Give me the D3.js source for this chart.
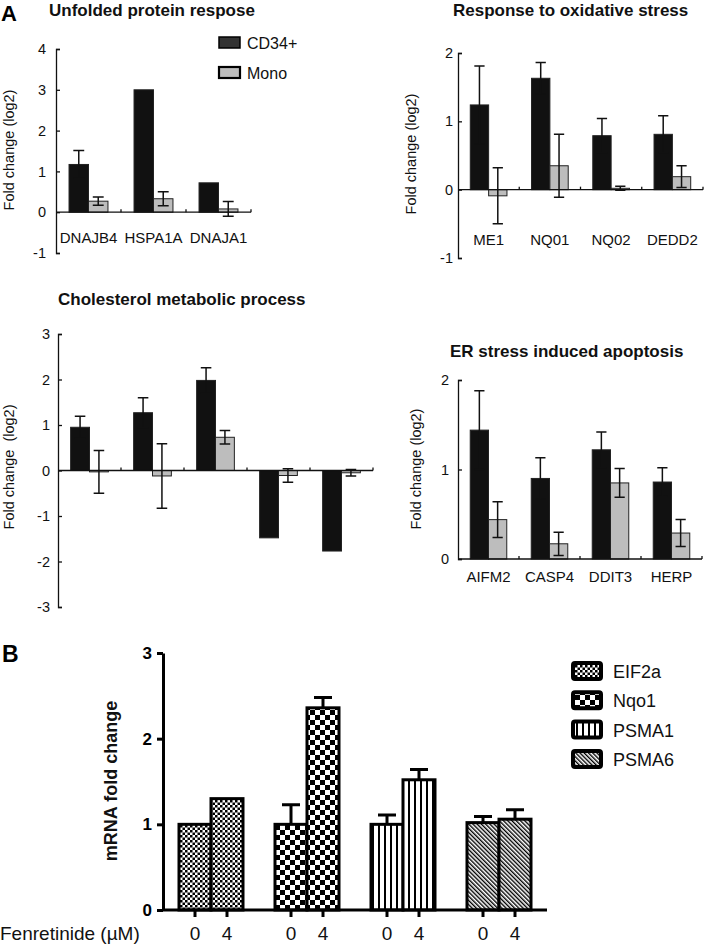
<!DOCTYPE html>
<html>
<head>
<meta charset="utf-8">
<script src="https://cdn.jsdelivr.net/npm/d3@7"></script>
<style>
body { margin: 0; background: #fff; }
svg { font-family: "Liberation Sans", Arial, sans-serif; }
</style>
</head>
<body>
<svg width="709" height="947"></svg>
<script>
// ---- panel A data (log2 fold change, CD34+ vs Mono) ----
const series = ["CD34+", "Mono"];

const uprGenes = ["DNAJB4", "HSPA1A", "DNAJA1"];
const uprCd34 = [1.17, 3.0, 0.72];
const uprCd34Err = [0.34, 0, 0];
const uprMono = [0.27, 0.33, 0.08];
const uprMonoErr = [0.1, 0.17, 0.18];

const oxGenes = ["ME1", "NQ01", "NQ02", "DEDD2"];
const oxCd34 = [1.24, 1.63, 0.79, 0.81];
const oxCd34Err = [0.57, 0.23, 0.25, 0.27];
const oxMono = [-0.09, 0.35, 0.02, 0.19];
const oxMonoErr = [0.41, 0.46, 0.03, 0.16];

// cholesterol panel has no gene labels in the figure
const cholGenes = ["g1", "g2", "g3", "g4", "g5"];
const cholCd34 = [0.95, 1.27, 1.98, -1.48, -1.77];
const cholCd34Err = [0.24, 0.33, 0.28, 0, 0];
const cholMono = [-0.03, -0.12, 0.73, -0.11, -0.05];
const cholMonoErr = [0.47, 0.71, 0.15, 0.15, 0.07];

const erGenes = ["AIFM2", "CASP4", "DDIT3", "HERP"];
const erCd34 = [1.44, 0.9, 1.22, 0.86];
const erCd34Err = [0.44, 0.23, 0.2, 0.16];
const erMono = [0.44, 0.17, 0.85, 0.29];
const erMonoErr = [0.2, 0.13, 0.16, 0.15];

// ---- panel B data (mRNA fold change) ----
const bGenes = ["EIF2a", "Nqo1", "PSMA1", "PSMA6"];
const bDoses = ["0", "4"];
const bDose0 = [1.0, 1.0, 1.0, 1.02];
const bDose0Err = [0, 0.23, 0.11, 0.07];
const bDose4 = [1.3, 2.36, 1.52, 1.06];
const bDose4Err = [0, 0.12, 0.12, 0.11];

const svg = d3.select("svg");
const black = "#111";
const grey = "#bdbdbd";

// patterns for panel B
const defs = svg.append("defs");
function checker(id, s) {
    const p = defs.append("pattern").attr("id", id)
        .attr("patternUnits", "userSpaceOnUse")
        .attr("width", s * 2).attr("height", s * 2);
    p.append("rect").attr("width", s * 2).attr("height", s * 2).attr("fill", "#fff");
    p.append("rect").attr("width", s).attr("height", s).attr("fill", "#000");
    p.append("rect").attr("x", s).attr("y", s).attr("width", s).attr("height", s).attr("fill", "#000");
}
checker("pEIF", 2.5);
checker("pNQO", 5);
const pv = defs.append("pattern").attr("id", "pPSMA1")
    .attr("patternUnits", "userSpaceOnUse").attr("width", 6).attr("height", 6);
pv.append("rect").attr("width", 6).attr("height", 6).attr("fill", "#fff");
pv.append("rect").attr("width", 2).attr("height", 6).attr("fill", "#000");
const pd = defs.append("pattern").attr("id", "pPSMA6")
    .attr("patternUnits", "userSpaceOnUse").attr("width", 3).attr("height", 3)
    .attr("patternTransform", "rotate(-45)");
pd.append("rect").attr("width", 3).attr("height", 3).attr("fill", "#fff");
pd.append("rect").attr("width", 1.4).attr("height", 3).attr("fill", "#000");
const bFill = ["url(#pEIF)", "url(#pNQO)", "url(#pPSMA1)", "url(#pPSMA6)"];

// one small panel of figure A
function panelA(p) {
    const g = svg.append("g");
    const x = d3.scaleBand().domain(p.genes).range(p.xr);
    const y = d3.scaleLinear().domain(p.yd).range(p.yr);
    const inner = d3.scaleBand().domain(series).range([0, x.bandwidth()]).paddingOuter(0.67);
    const bw = inner.bandwidth();

    const rows = p.genes.map((gene, i) => [
        { gene, s: "CD34+", v: p.cd34[i], e: p.cd34Err[i] },
        { gene, s: "Mono", v: p.mono[i], e: p.monoErr[i] }
    ]).flat();

    g.selectAll(".bar").data(rows).enter().append("rect")
        .attr("x", d => x(d.gene) + inner(d.s))
        .attr("y", d => Math.min(y(d.v), y(0)))
        .attr("width", bw)
        .attr("height", d => Math.abs(y(d.v) - y(0)))
        .attr("fill", d => d.s == "CD34+" ? black : grey)
        .attr("stroke", "#222")
        .attr("stroke-width", 1);

    const eb = rows.filter(d => d.e > 0);
    const cx = d => x(d.gene) + inner(d.s) + bw / 2;
    const cap = bw * 0.28;
    g.selectAll(".err").data(eb).enter().append("path")
        .attr("d", d => {
            const t = y(d.v + d.e), b = y(d.v - d.e), c = cx(d);
            return `M${c},${t}V${b}M${c - cap},${t}H${c + cap}M${c - cap},${b}H${c + cap}`;
        })
        .attr("fill", "none").attr("stroke", black).attr("stroke-width", 1.5);

    // y axis, ticks pointing inward
    const ya = g.append("g")
        .attr("transform", `translate(${p.xr[0]},0)`)
        .call(d3.axisLeft(y)
            .tickValues(d3.range(p.yd[0], p.yd[1] + 1))
            .tickFormat(d => d)
            .tickSize(-4)
            .tickPadding(p.pad));
    ya.selectAll("path,line").attr("stroke", black).attr("stroke-width", 1.3);
    ya.selectAll("text").attr("font-size", 14.5).attr("fill", black)
        .attr("font-family", "Liberation Sans, Arial, sans-serif");

    // zero line and small ticks between genes
    g.append("line")
        .attr("x1", p.xr[0]).attr("x2", p.xr[1])
        .attr("y1", y(0)).attr("y2", y(0))
        .attr("stroke", black).attr("stroke-width", 1.3);
    const bounds = p.genes.slice(1).map(d => x(d)).concat([p.xr[1]]);
    g.selectAll(".xt").data(bounds).enter().append("line")
        .attr("x1", d => d).attr("x2", d => d)
        .attr("y1", y(0)).attr("y2", y(0) - 3)
        .attr("stroke", black).attr("stroke-width", 1.3);

    if (p.labels) {
        g.selectAll(".lab").data(p.genes).enter().append("text")
            .attr("x", d => x(d) + x.bandwidth() / 2)
            .attr("y", p.labelY)
            .attr("text-anchor", "middle")
            .attr("font-size", 15)
            .attr("fill", black)
            .text(d => d);
    }

    g.append("text")
        .attr("x", p.titleX).attr("y", p.titleY)
        .attr("font-size", 17).attr("font-weight", "bold").attr("fill", black)
        .text(p.title);

    g.append("text")
        .attr("transform", `translate(${p.ylabX},${p.ylabY}) rotate(-90)`)
        .attr("text-anchor", "middle")
        .attr("dominant-baseline", "central")
        .attr("font-size", 14.5).attr("fill", black)
        .text(p.ylab);
}

panelA({
    genes: uprGenes, cd34: uprCd34, cd34Err: uprCd34Err, mono: uprMono, monoErr: uprMonoErr,
    xr: [56, 251], yd: [-1, 4], yr: [253, 49], pad: 10, labels: true, labelY: 243,
    title: "Unfolded protein respose", titleX: 49, titleY: 16,
    ylab: "Fold change (log2)", ylabX: 9, ylabY: 150
});
panelA({
    genes: oxGenes, cd34: oxCd34, cd34Err: oxCd34Err, mono: oxMono, monoErr: oxMonoErr,
    xr: [458, 703], yd: [-1, 2], yr: [258, 53], pad: 5, labels: true, labelY: 245,
    title: "Response to oxidative stress", titleX: 453, titleY: 16,
    ylab: "Fold change (log2)", ylabX: 411, ylabY: 154
});
panelA({
    genes: cholGenes, cd34: cholCd34, cd34Err: cholCd34Err, mono: cholMono, monoErr: cholMonoErr,
    xr: [58, 373], yd: [-3, 3], yr: [607, 334], pad: 8, labels: false,
    title: "Cholesterol metabolic process", titleX: 58, titleY: 305,
    ylab: "Fold change \u00a0(log2)", ylabX: 9, ylabY: 467
});
panelA({
    genes: erGenes, cd34: erCd34, cd34Err: erCd34Err, mono: erMono, monoErr: erMonoErr,
    xr: [458, 702], yd: [0, 2], yr: [559, 380], pad: 9, labels: true, labelY: 582,
    title: "ER stress induced apoptosis", titleX: 450, titleY: 357,
    ylab: "Fold change (log2)", ylabX: 416, ylabY: 469
});

// legend of A
const legA = svg.append("g");
legA.selectAll("rect").data(series).enter().append("rect")
    .attr("x", 219).attr("y", (d, i) => 37 + i * 30)
    .attr("width", 21).attr("height", 11)
    .attr("fill", (d, i) => i == 0 ? "#333" : grey)
    .attr("stroke", "#000").attr("stroke-width", (d, i) => i == 0 ? 1.5 : 2.2);
legA.selectAll("text").data(series).enter().append("text")
    .attr("x", 247).attr("y", (d, i) => 49 + i * 30)
    .attr("font-size", 16).attr("fill", black)
    .text(d => d);

svg.append("text").attr("x", 1).attr("y", 21)
    .attr("font-size", 22).attr("font-weight", "bold").text("A");

// ---- panel B ----
const gB = svg.append("g");
const xB = d3.scaleBand().domain(bGenes).range([163, 547]).paddingInner(1 / 3).paddingOuter(1 / 6);
const xD = d3.scaleBand().domain(bDoses).range([0, xB.bandwidth()]);
const yB = d3.scaleLinear().domain([0, 3]).range([910, 653]);

const bRows = bGenes.map((gene, i) => [
    { gene, i, dose: "0", v: bDose0[i], e: bDose0Err[i] },
    { gene, i, dose: "4", v: bDose4[i], e: bDose4Err[i] }
]).flat();

gB.selectAll(".bar").data(bRows).enter().append("rect")
    .attr("x", d => xB(d.gene) + xD(d.dose))
    .attr("y", d => yB(d.v))
    .attr("width", xD.bandwidth())
    .attr("height", d => yB(0) - yB(d.v))
    .attr("fill", d => bFill[d.i])
    .attr("stroke", "#000").attr("stroke-width", 3);

const bcx = d => xB(d.gene) + xD(d.dose) + xD.bandwidth() / 2;
gB.selectAll(".err").data(bRows.filter(d => d.e > 0)).enter().append("path")
    .attr("d", d => {
        const c = bcx(d), t = yB(d.v + d.e);
        return `M${c},${yB(d.v)}V${t}M${c - 9},${t}H${c + 9}`;
    })
    .attr("fill", "none").attr("stroke", "#000").attr("stroke-width", 3);

const yaB = gB.append("g")
    .attr("transform", "translate(163,0)")
    .call(d3.axisLeft(yB).ticks(3).tickFormat(d3.format("d")).tickSize(6).tickSizeOuter(0).tickPadding(5));
yaB.selectAll("path,line").attr("stroke", "#000").attr("stroke-width", 3);
yaB.selectAll("text").attr("font-size", 17).attr("font-weight", "bold").attr("fill", "#000")
    .attr("font-family", "Liberation Sans, Arial, sans-serif");

gB.append("line").attr("x1", 163).attr("x2", 547).attr("y1", yB(0)).attr("y2", yB(0))
    .attr("stroke", "#000").attr("stroke-width", 3);
gB.selectAll(".xt").data(bRows).enter().append("line")
    .attr("x1", bcx).attr("x2", bcx)
    .attr("y1", yB(0)).attr("y2", yB(0) + 7)
    .attr("stroke", "#000").attr("stroke-width", 3);
gB.selectAll(".xl").data(bRows).enter().append("text")
    .attr("x", bcx).attr("y", 940)
    .attr("text-anchor", "middle").attr("font-size", 19).attr("fill", black)
    .text(d => d.dose);

gB.append("text").attr("x", 0).attr("y", 940)
    .attr("font-size", 19).attr("fill", black).text("Fenretinide (\u00b5M)");

gB.append("text")
    .attr("transform", "translate(111,781) rotate(-90)")
    .attr("text-anchor", "middle").attr("dominant-baseline", "central")
    .attr("font-size", 18).attr("font-weight", "bold").attr("fill", black)
    .text("mRNA fold change");

svg.append("text").attr("x", 2).attr("y", 662)
    .attr("font-size", 23).attr("font-weight", "bold").text("B");

// legend of B
const legB = svg.append("g");
legB.selectAll("rect").data(bGenes).enter().append("rect")
    .attr("x", 573).attr("y", (d, i) => 663 + i * 29.3)
    .attr("width", 28).attr("height", 16).attr("rx", 2)
    .attr("fill", (d, i) => bFill[i])
    .attr("stroke", "#000").attr("stroke-width", 4);
legB.selectAll("text").data(bGenes).enter().append("text")
    .attr("x", 613).attr("y", (d, i) => 678 + i * 29.3)
    .attr("font-size", 18).attr("fill", black)
    .text(d => d);
</script>
</body>
</html>
